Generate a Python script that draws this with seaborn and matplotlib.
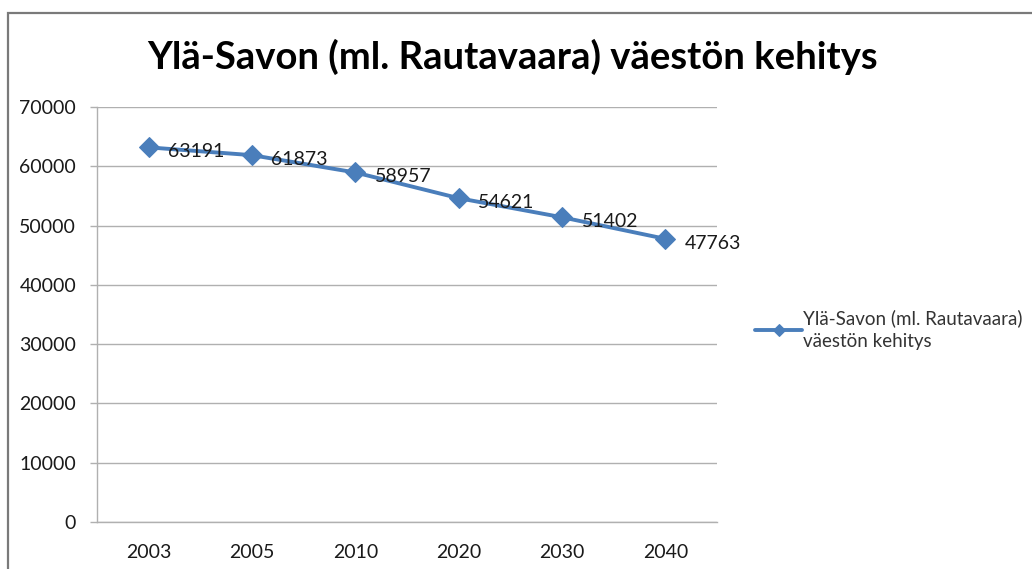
import matplotlib
matplotlib.use("Agg")
import matplotlib.pyplot as plt
import seaborn as sns
import pandas as pd
import numpy as np
from matplotlib.patches import Rectangle
from matplotlib.ticker import FixedLocator, MultipleLocator

years = ["2003", "2005", "2010", "2020", "2030", "2040"]
population = [63191, 61873, 58957, 54621, 51402, 47763]
series_name = "Ylä-Savon (ml. Rautavaara)\nväestön kehitys"
title = "Ylä-Savon (ml. Rautavaara) väestön kehitys"

sns.set_style("white")
plt.rcParams["font.family"] = ["Lato", "DejaVu Sans"]

df = pd.DataFrame({"year": years, "value": population})

fig = plt.figure(figsize=(10.32, 5.69), dpi=100)
ax = fig.add_axes([97/1032, 1-522/569, (717-97)/1032, (522-107)/569])

blue = "#4a7ebb"
sns.lineplot(data=df, x="year", y="value", ax=ax, color=blue, linewidth=2.8,
             marker="D", markersize=10, markeredgecolor=blue, sort=False,
             label=series_name)

for i, v in enumerate(population):
    ax.annotate(str(v), (i, v), xytext=(14, -3), textcoords="offset points",
                ha="left", va="center", fontsize=14, color="#1a1a1a")

ax.set_xlim(-0.5, len(years) - 0.5)
ax.set_ylim(0, 70000)
ax.yaxis.set_major_locator(MultipleLocator(10000))
ax.grid(axis="y", color="#b0b0b0", linewidth=1)
ax.grid(axis="x", visible=False)
ax.set_xlabel("")
ax.set_ylabel("")
for s in ["top", "right"]:
    ax.spines[s].set_visible(False)
for s in ["left", "bottom"]:
    ax.spines[s].set_color("#b0b0b0")
    ax.spines[s].set_linewidth(1)

ax.xaxis.set_minor_locator(FixedLocator(np.arange(-0.5, len(years), 1.0)))
ax.tick_params(axis="x", which="major", length=0, labelsize=14, pad=16, colors="#1a1a1a")
ax.tick_params(axis="x", which="minor", length=5, color="#b0b0b0", width=1, direction="out")
ax.tick_params(axis="y", which="major", length=5, color="#b0b0b0", width=1, labelsize=14, pad=10, labelcolor="#1a1a1a", left=True)

leg = ax.legend(loc="center left", bbox_to_anchor=(1.05, 0.463), frameon=False,
                fontsize=13.5, handlelength=2.5, handletextpad=0.05, borderaxespad=0)
for t in leg.get_texts():
    t.set_color("#333333")
    t.set_linespacing(1.45)
for h in leg.legend_handles:
    h.set_markersize(6)

fig.text(513/1032, 1-57/569, title, ha="center", va="center", fontsize=27.5,
         fontweight="bold", color="#000000")

fig.patches.append(Rectangle((8/1032, -0.1), 1.2, 1.1 - 13/569, transform=fig.transFigure,
                             fill=False, edgecolor="#7a7a7a", linewidth=1.6, zorder=0))

fig.savefig("out.png", dpi=100)
